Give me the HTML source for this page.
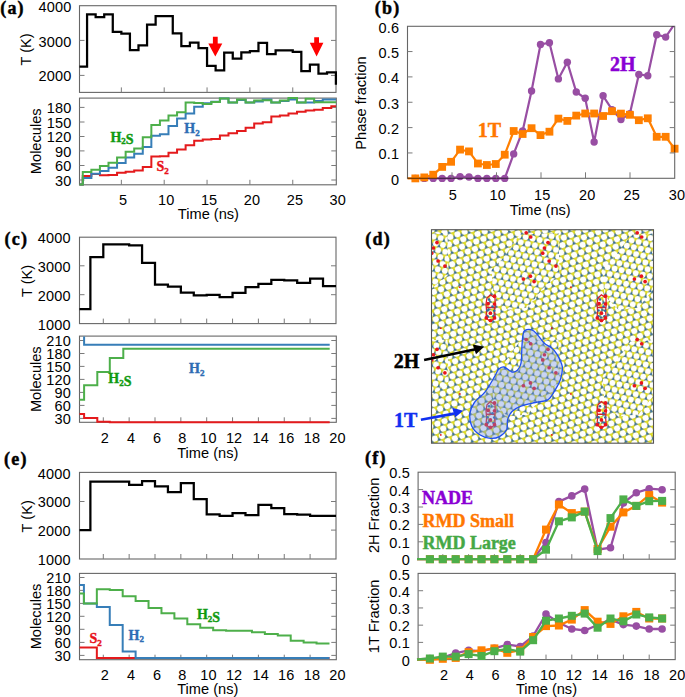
<!DOCTYPE html>
<html><head><meta charset="utf-8"><style>
html,body{margin:0;padding:0;background:#fff;overflow:hidden;}
svg{display:block;}
</style></head><body>
<svg width="685" height="697" viewBox="0 0 685 697">
<defs>
<clipPath id="clipb"><rect x="400" y="20" width="282" height="168"/></clipPath>
<clipPath id="clipb2"><rect x="400" y="26.3" width="274.4" height="162"/></clipPath>
<clipPath id="clipf1"><rect x="405" y="465" width="280" height="102"/></clipPath>
<pattern id="mos2b" patternUnits="userSpaceOnUse" width="7.2" height="12.471" patternTransform="translate(431.5,229.7) rotate(12)"><rect width="7.2" height="12.471" fill="#fff"/><path d="M3.60,2.08L0.00,4.16M3.60,2.08L7.20,4.16M3.60,2.08L3.60,-2.08M0.00,8.31L0.00,4.16M0.00,8.31L3.60,10.39M0.00,8.31L-3.60,10.39M7.20,8.31L7.20,4.16M7.20,8.31L3.60,10.39M7.20,8.31L10.80,10.39M3.60,14.55L3.60,10.39" stroke="#9aa84a" stroke-width="1.5"/><path d="M0.00,6.56 L-2.08,2.96 L2.08,2.96ZM7.20,6.56 L5.12,2.96 L9.28,2.96ZM3.60,12.79 L1.52,9.19 L5.68,9.19ZM3.60,0.32 L1.52,-3.28 L5.68,-3.28Z" fill="#e3de1e"/><path d="M3.60,0.18 L5.25,3.03 L1.95,3.03ZM0.00,6.41 L1.65,9.26 L-1.65,9.26ZM7.20,6.41 L8.85,9.26 L5.55,9.26ZM3.60,12.65 L5.25,15.50 L1.95,15.50Z" fill="#2f6aa6"/><circle cx="0" cy="0.000" r="2.75" fill="#fff"/><circle cx="7.2" cy="0.000" r="2.75" fill="#fff"/><circle cx="0" cy="12.471" r="2.75" fill="#fff"/><circle cx="7.2" cy="12.471" r="2.75" fill="#fff"/><circle cx="3.6" cy="6.235" r="2.75" fill="#fff"/></pattern>
<pattern id="mos2" patternUnits="userSpaceOnUse" width="7.6" height="13.164" patternTransform="translate(431.5,229.7) rotate(-20)"><rect width="7.6" height="13.164" fill="#fff"/><path d="M3.80,2.19L0.00,4.39M3.80,2.19L7.60,4.39M3.80,2.19L3.80,-2.19M0.00,8.78L0.00,4.39M0.00,8.78L3.80,10.97M0.00,8.78L-3.80,10.97M7.60,8.78L7.60,4.39M7.60,8.78L3.80,10.97M7.60,8.78L11.40,10.97M3.80,15.36L3.80,10.97" stroke="#9aa84a" stroke-width="1.6"/><path d="M0.00,6.99 L-2.25,3.09 L2.25,3.09ZM7.60,6.99 L5.35,3.09 L9.85,3.09ZM3.80,13.57 L1.55,9.67 L6.05,9.67ZM3.80,0.41 L1.55,-3.49 L6.05,-3.49Z" fill="#e3de1e"/><path d="M3.80,0.19 L5.53,3.19 L2.07,3.19ZM0.00,6.78 L1.73,9.78 L-1.73,9.78ZM7.60,6.78 L9.33,9.78 L5.87,9.78ZM3.80,13.36 L5.53,16.36 L2.07,16.36Z" fill="#2f6aa6"/><circle cx="0" cy="0.000" r="2.9" fill="#fff"/><circle cx="7.6" cy="0.000" r="2.9" fill="#fff"/><circle cx="0" cy="13.164" r="2.9" fill="#fff"/><circle cx="7.6" cy="13.164" r="2.9" fill="#fff"/><circle cx="3.8" cy="6.582" r="2.9" fill="#fff"/></pattern>
<clipPath id="clipd"><rect x="431.5" y="229.7" width="222.00" height="213.50"/></clipPath>
</defs>
<rect width="685" height="697" fill="#fff"/>
<rect x="79.5" y="5.7" width="256.50" height="86.70" fill="none" stroke="#000" stroke-opacity="0.6" stroke-width="1.1"/>
<path d="M79.5,40.40h5M336.0,40.40h-5M79.5,75.40h5M336.0,75.40h-5" stroke="#7a7a7a" stroke-width="1" fill="none"/>
<path d="M121.35,92.4v-5M164.20,92.4v-5M207.05,92.4v-5M249.90,92.4v-5M292.75,92.4v-5" stroke="#7a7a7a" stroke-width="1" fill="none"/>
<text x="71.40" y="12.20" font-family='"Liberation Sans", sans-serif' font-size="14.5" font-weight="normal" text-anchor="end" fill="#000" letter-spacing="0.15">4000</text>
<text x="71.40" y="46.90" font-family='"Liberation Sans", sans-serif' font-size="14.5" font-weight="normal" text-anchor="end" fill="#000" letter-spacing="0.15">3000</text>
<text x="71.40" y="80.80" font-family='"Liberation Sans", sans-serif' font-size="14.5" font-weight="normal" text-anchor="end" fill="#000" letter-spacing="0.15">2000</text>
<text transform="translate(26.00,49.50) rotate(-90)" x="0" y="5.26" font-family='"Liberation Sans", sans-serif' font-size="14.6" text-anchor="middle" fill="#000">T (K)</text>
<text x="0.20" y="14.10" font-family='"Liberation Serif", serif' font-size="18" font-weight="bold" text-anchor="start" fill="#000" letter-spacing="1.2" stroke="#000" stroke-width="0.45">(a)</text>
<path d="M79.50,66.60 L87.07,66.60 L87.07,14.30 L95.64,14.30 L95.64,17.10 L104.21,17.10 L104.21,14.30 L112.78,14.30 L112.78,31.80 L121.35,31.80 L121.35,33.70 L129.92,33.70 L129.92,50.10 L138.49,50.10 L138.49,45.40 L147.06,45.40 L147.06,24.60 L155.63,24.60 L155.63,16.00 L164.20,16.00 L164.20,16.00 L172.77,16.00 L172.77,33.40 L181.34,33.40 L181.34,46.00 L189.91,46.00 L189.91,42.70 L198.48,42.70 L198.48,48.00 L207.05,48.00 L207.05,65.90 L215.62,65.90 L215.62,70.30 L224.19,70.30 L224.19,52.50 L232.76,52.50 L232.76,58.70 L241.33,58.70 L241.33,52.30 L249.90,52.30 L249.90,51.10 L258.47,51.10 L258.47,42.80 L267.04,42.80 L267.04,54.00 L275.61,54.00 L275.61,50.40 L284.18,50.40 L284.18,50.40 L292.75,50.40 L292.75,51.80 L301.32,51.80 L301.32,71.10 L309.89,71.10 L309.89,64.70 L318.46,64.70 L318.46,73.70 L327.03,73.70 L327.03,72.30 L335.90,72.30 L335.90,84.70" stroke="#000" stroke-width="2.25" fill="none" stroke-linejoin="miter"/>
<path d="M212.9,36.8 h4.8 V43.6 h4.6 L215.3,56.4 L208.3,43.6 h4.6 Z" fill="#ff0000"/>
<path d="M314.20000000000005,37.2 h4.8 V42.8 h4.4 L316.6,56.4 L309.8,42.8 h4.4 Z" fill="#ff0000"/>
<rect x="79.5" y="98.1" width="256.80" height="86.70" fill="none" stroke="#000" stroke-opacity="0.6" stroke-width="1.1"/>
<path d="M79.5,107.40h5M336.3,107.40h-5M79.5,122.00h5M336.3,122.00h-5M79.5,136.50h5M336.3,136.50h-5M79.5,150.90h5M336.3,150.90h-5M79.5,165.50h5M336.3,165.50h-5M79.5,180.00h5M336.3,180.00h-5" stroke="#7a7a7a" stroke-width="1" fill="none"/>
<path d="M121.35,184.8v-5M164.20,184.8v-5M207.05,184.8v-5M249.90,184.8v-5M292.75,184.8v-5" stroke="#7a7a7a" stroke-width="1" fill="none"/>
<text x="71.40" y="113.00" font-family='"Liberation Sans", sans-serif' font-size="14.5" font-weight="normal" text-anchor="end" fill="#000" letter-spacing="0.15">180</text>
<text x="71.40" y="127.60" font-family='"Liberation Sans", sans-serif' font-size="14.5" font-weight="normal" text-anchor="end" fill="#000" letter-spacing="0.15">150</text>
<text x="71.40" y="142.10" font-family='"Liberation Sans", sans-serif' font-size="14.5" font-weight="normal" text-anchor="end" fill="#000" letter-spacing="0.15">120</text>
<text x="71.40" y="156.50" font-family='"Liberation Sans", sans-serif' font-size="14.5" font-weight="normal" text-anchor="end" fill="#000" letter-spacing="0.15">90</text>
<text x="71.40" y="171.10" font-family='"Liberation Sans", sans-serif' font-size="14.5" font-weight="normal" text-anchor="end" fill="#000" letter-spacing="0.15">60</text>
<text x="71.40" y="185.60" font-family='"Liberation Sans", sans-serif' font-size="14.5" font-weight="normal" text-anchor="end" fill="#000" letter-spacing="0.15">30</text>
<text transform="translate(35.30,141.30) rotate(-90)" x="0" y="5.26" font-family='"Liberation Sans", sans-serif' font-size="14.6" text-anchor="middle" fill="#000">Molecules</text>
<text x="123.20" y="204.90" font-family='"Liberation Sans", sans-serif' font-size="14.5" font-weight="normal" text-anchor="middle" fill="#000" letter-spacing="0.15">5</text>
<text x="166.20" y="204.90" font-family='"Liberation Sans", sans-serif' font-size="14.5" font-weight="normal" text-anchor="middle" fill="#000" letter-spacing="0.15">10</text>
<text x="209.10" y="204.90" font-family='"Liberation Sans", sans-serif' font-size="14.5" font-weight="normal" text-anchor="middle" fill="#000" letter-spacing="0.15">15</text>
<text x="252.00" y="204.90" font-family='"Liberation Sans", sans-serif' font-size="14.5" font-weight="normal" text-anchor="middle" fill="#000" letter-spacing="0.15">20</text>
<text x="294.90" y="204.90" font-family='"Liberation Sans", sans-serif' font-size="14.5" font-weight="normal" text-anchor="middle" fill="#000" letter-spacing="0.15">25</text>
<text x="337.80" y="204.90" font-family='"Liberation Sans", sans-serif' font-size="14.5" font-weight="normal" text-anchor="middle" fill="#000" letter-spacing="0.15">30</text>
<text x="208.40" y="219.40" font-family='"Liberation Sans", sans-serif' font-size="14.6" font-weight="normal" text-anchor="middle" fill="#000" >Time (ns)</text>
<path d="M79.50,184.40 L82.78,184.40 L82.78,176.10 L91.36,176.10 L91.36,174.00 L99.92,174.00 L99.92,175.30 L108.50,175.30 L108.50,174.90 L117.06,174.90 L117.06,172.70 L125.64,172.70 L125.64,171.70 L134.20,171.70 L134.20,170.50 L142.78,170.50 L142.78,167.00 L151.34,167.00 L151.34,156.40 L159.92,156.40 L159.92,156.20 L168.49,156.20 L168.49,152.70 L177.06,152.70 L177.06,149.50 L185.62,149.50 L185.62,145.20 L194.19,145.20 L194.19,140.80 L202.76,140.80 L202.76,139.50 L211.34,139.50 L211.34,139.00 L219.91,139.00 L219.91,135.40 L228.47,135.40 L228.47,133.20 L237.05,133.20 L237.05,130.90 L245.62,130.90 L245.62,127.70 L254.19,127.70 L254.19,123.40 L262.75,123.40 L262.75,122.30 L271.33,122.30 L271.33,116.50 L279.89,116.50 L279.89,115.40 L288.47,115.40 L288.47,113.50 L297.03,113.50 L297.03,111.80 L305.61,111.80 L305.61,110.40 L314.18,110.40 L314.18,109.70 L322.75,109.70 L322.75,108.00 L331.31,108.00 L331.31,106.30 L336.00,106.30" stroke="#e41a1c" stroke-width="2" fill="none"/>
<path d="M79.50,184.40 L82.78,184.40 L82.78,178.00 L91.36,178.00 L91.36,173.70 L99.92,173.70 L99.92,171.00 L108.50,171.00 L108.50,167.70 L117.06,167.70 L117.06,163.10 L125.64,163.10 L125.64,157.60 L134.20,157.60 L134.20,153.80 L142.78,153.80 L142.78,147.10 L151.34,147.10 L151.34,135.70 L159.92,135.70 L159.92,134.30 L168.49,134.30 L168.49,126.00 L177.06,126.00 L177.06,118.50 L185.62,118.50 L185.62,113.50 L194.19,113.50 L194.19,106.80 L202.76,106.80 L202.76,103.20 L211.34,103.20 L211.34,101.80 L219.91,101.80 L219.91,98.40 L228.47,98.40 L228.47,102.60 L237.05,102.60 L237.05,99.90 L245.62,99.90 L245.62,102.60 L254.19,102.60 L254.19,101.50 L262.75,101.50 L262.75,99.50 L271.33,99.50 L271.33,102.60 L279.89,102.60 L279.89,101.00 L288.47,101.00 L288.47,99.50 L297.03,99.50 L297.03,102.60 L305.61,102.60 L305.61,102.60 L314.18,102.60 L314.18,101.00 L322.75,101.00 L322.75,99.50 L331.31,99.50 L331.31,99.50 L336.00,99.50" stroke="#377eb8" stroke-width="2" fill="none"/>
<path d="M79.50,184.40 L82.78,184.40 L82.78,171.90 L91.36,171.90 L91.36,169.80 L99.92,169.80 L99.92,165.90 L108.50,165.90 L108.50,162.70 L117.06,162.70 L117.06,157.50 L125.64,157.50 L125.64,151.80 L134.20,151.80 L134.20,148.40 L142.78,148.40 L142.78,137.30 L151.34,137.30 L151.34,124.90 L159.92,124.90 L159.92,120.60 L168.49,120.60 L168.49,115.50 L177.06,115.50 L177.06,112.20 L185.62,112.20 L185.62,102.50 L194.19,102.50 L194.19,103.00 L202.76,103.00 L202.76,104.00 L211.34,104.00 L211.34,102.00 L219.91,102.00 L219.91,98.50 L228.47,98.50 L228.47,102.60 L237.05,102.60 L237.05,99.50 L245.62,99.50 L245.62,102.60 L254.19,102.60 L254.19,100.50 L262.75,100.50 L262.75,100.20 L271.33,100.20 L271.33,102.60 L279.89,102.60 L279.89,100.40 L288.47,100.40 L288.47,98.10 L297.03,98.10 L297.03,102.60 L305.61,102.60 L305.61,98.80 L314.18,98.80 L314.18,102.20 L322.75,102.20 L322.75,102.20 L331.31,102.20 L331.31,102.20 L336.00,102.20" stroke="#4daf4a" stroke-width="2" fill="none"/>
<text x="110.40" y="141.50" font-family='"Liberation Serif", serif' font-size="14" font-weight="bold" fill="#109a10" stroke="#109a10" stroke-width="0.4"><tspan>H</tspan><tspan font-size="9.0" dy="2.8">2</tspan><tspan dy="-2.8"></tspan><tspan>S</tspan></text>
<text x="184.30" y="133.40" font-family='"Liberation Serif", serif' font-size="14" font-weight="bold" fill="#2e6db4" stroke="#2e6db4" stroke-width="0.4"><tspan>H</tspan><tspan font-size="9.0" dy="2.8">2</tspan><tspan dy="-2.8"></tspan></text>
<text x="156.50" y="171.40" font-family='"Liberation Serif", serif' font-size="14" font-weight="bold" fill="#e8101a" stroke="#e8101a" stroke-width="0.4"><tspan>S</tspan><tspan font-size="9.0" dy="2.8">2</tspan><tspan dy="-2.8"></tspan></text>
<text x="399.20" y="32.70" font-family='"Liberation Sans", sans-serif' font-size="14.5" font-weight="normal" text-anchor="end" fill="#000" letter-spacing="0.15">0.6</text>
<text x="399.20" y="58.05" font-family='"Liberation Sans", sans-serif' font-size="14.5" font-weight="normal" text-anchor="end" fill="#000" letter-spacing="0.15">0.5</text>
<text x="399.20" y="83.40" font-family='"Liberation Sans", sans-serif' font-size="14.5" font-weight="normal" text-anchor="end" fill="#000" letter-spacing="0.15">0.4</text>
<text x="399.20" y="108.75" font-family='"Liberation Sans", sans-serif' font-size="14.5" font-weight="normal" text-anchor="end" fill="#000" letter-spacing="0.15">0.3</text>
<text x="399.20" y="134.10" font-family='"Liberation Sans", sans-serif' font-size="14.5" font-weight="normal" text-anchor="end" fill="#000" letter-spacing="0.15">0.2</text>
<text x="399.20" y="159.45" font-family='"Liberation Sans", sans-serif' font-size="14.5" font-weight="normal" text-anchor="end" fill="#000" letter-spacing="0.15">0.1</text>
<text x="399.20" y="184.80" font-family='"Liberation Sans", sans-serif' font-size="14.5" font-weight="normal" text-anchor="end" fill="#000" letter-spacing="0.15">0</text>
<text transform="translate(361.00,103.00) rotate(-90)" x="0" y="5.26" font-family='"Liberation Sans", sans-serif' font-size="14.6" text-anchor="middle" fill="#000">Phase fraction</text>
<text x="452.80" y="200.20" font-family='"Liberation Sans", sans-serif' font-size="14.5" font-weight="normal" text-anchor="middle" fill="#000" letter-spacing="0.15">5</text>
<text x="497.80" y="200.20" font-family='"Liberation Sans", sans-serif' font-size="14.5" font-weight="normal" text-anchor="middle" fill="#000" letter-spacing="0.15">10</text>
<text x="542.30" y="200.20" font-family='"Liberation Sans", sans-serif' font-size="14.5" font-weight="normal" text-anchor="middle" fill="#000" letter-spacing="0.15">15</text>
<text x="587.20" y="200.20" font-family='"Liberation Sans", sans-serif' font-size="14.5" font-weight="normal" text-anchor="middle" fill="#000" letter-spacing="0.15">20</text>
<text x="631.80" y="200.20" font-family='"Liberation Sans", sans-serif' font-size="14.5" font-weight="normal" text-anchor="middle" fill="#000" letter-spacing="0.15">25</text>
<text x="677.00" y="200.20" font-family='"Liberation Sans", sans-serif' font-size="14.5" font-weight="normal" text-anchor="middle" fill="#000" letter-spacing="0.15">30</text>
<text x="540.20" y="214.70" font-family='"Liberation Sans", sans-serif' font-size="14.6" font-weight="normal" text-anchor="middle" fill="#000" >Time (ns)</text>
<text x="374.80" y="13.50" font-family='"Liberation Serif", serif' font-size="18" font-weight="bold" text-anchor="start" fill="#000" letter-spacing="1.2" stroke="#000" stroke-width="0.45">(b)</text>
<g clip-path="url(#clipb2)">
<path d="M415.34,178.40 L424.28,178.40 L433.22,178.40 L442.16,178.40 L451.10,178.40 L460.04,176.60 L468.98,177.00 L477.92,178.40 L486.86,178.40 L495.80,178.40 L504.74,178.40 L513.68,153.90 L522.62,131.00 L531.56,91.00 L540.50,44.50 L549.44,42.70 L558.38,78.90 L567.32,62.20 L576.26,92.00 L585.20,98.30 L594.14,142.00 L603.08,95.80 L612.02,109.60 L620.96,119.50 L629.90,113.60 L638.84,74.50 L647.78,75.70 L656.72,34.70 L665.66,37.10 L674.60,24.00" stroke="#984ea3" stroke-width="2.2" fill="none"/>
</g>
<g clip-path="url(#clipb)">
<circle cx="415.34" cy="178.40" r="3.7" fill="#984ea3"/>
<circle cx="424.28" cy="178.40" r="3.7" fill="#984ea3"/>
<circle cx="433.22" cy="178.40" r="3.7" fill="#984ea3"/>
<circle cx="442.16" cy="178.40" r="3.7" fill="#984ea3"/>
<circle cx="451.10" cy="178.40" r="3.7" fill="#984ea3"/>
<circle cx="460.04" cy="176.60" r="3.7" fill="#984ea3"/>
<circle cx="468.98" cy="177.00" r="3.7" fill="#984ea3"/>
<circle cx="477.92" cy="178.40" r="3.7" fill="#984ea3"/>
<circle cx="486.86" cy="178.40" r="3.7" fill="#984ea3"/>
<circle cx="495.80" cy="178.40" r="3.7" fill="#984ea3"/>
<circle cx="504.74" cy="178.40" r="3.7" fill="#984ea3"/>
<circle cx="513.68" cy="153.90" r="3.7" fill="#984ea3"/>
<circle cx="522.62" cy="131.00" r="3.7" fill="#984ea3"/>
<circle cx="531.56" cy="91.00" r="3.7" fill="#984ea3"/>
<circle cx="540.50" cy="44.50" r="3.7" fill="#984ea3"/>
<circle cx="549.44" cy="42.70" r="3.7" fill="#984ea3"/>
<circle cx="558.38" cy="78.90" r="3.7" fill="#984ea3"/>
<circle cx="567.32" cy="62.20" r="3.7" fill="#984ea3"/>
<circle cx="576.26" cy="92.00" r="3.7" fill="#984ea3"/>
<circle cx="585.20" cy="98.30" r="3.7" fill="#984ea3"/>
<circle cx="594.14" cy="142.00" r="3.7" fill="#984ea3"/>
<circle cx="603.08" cy="95.80" r="3.7" fill="#984ea3"/>
<circle cx="612.02" cy="109.60" r="3.7" fill="#984ea3"/>
<circle cx="620.96" cy="119.50" r="3.7" fill="#984ea3"/>
<circle cx="629.90" cy="113.60" r="3.7" fill="#984ea3"/>
<circle cx="638.84" cy="74.50" r="3.7" fill="#984ea3"/>
<circle cx="647.78" cy="75.70" r="3.7" fill="#984ea3"/>
<circle cx="656.72" cy="34.70" r="3.7" fill="#984ea3"/>
<circle cx="665.66" cy="37.10" r="3.7" fill="#984ea3"/>
<path d="M407.50,178.40 L415.34,178.40 L424.28,177.40 L433.22,174.70 L442.16,166.90 L451.10,161.80 L460.04,149.60 L468.98,151.40 L477.92,163.50 L486.86,165.00 L495.80,164.00 L504.74,154.70 L513.68,131.00 L522.62,134.00 L531.56,128.20 L540.50,135.10 L549.44,131.70 L558.38,118.60 L567.32,120.90 L576.26,115.60 L585.20,113.50 L594.14,113.50 L603.08,116.00 L612.02,111.20 L620.96,113.60 L629.90,114.80 L638.84,120.20 L647.78,118.30 L656.72,136.80 L665.66,136.80 L674.60,148.70" stroke="#ff7f00" stroke-width="2.2" fill="none"/>
<rect x="411.44" y="174.50" width="7.8" height="7.8" fill="#ff7f00"/>
<rect x="420.38" y="173.50" width="7.8" height="7.8" fill="#ff7f00"/>
<rect x="429.32" y="170.80" width="7.8" height="7.8" fill="#ff7f00"/>
<rect x="438.26" y="163.00" width="7.8" height="7.8" fill="#ff7f00"/>
<rect x="447.20" y="157.90" width="7.8" height="7.8" fill="#ff7f00"/>
<rect x="456.14" y="145.70" width="7.8" height="7.8" fill="#ff7f00"/>
<rect x="465.08" y="147.50" width="7.8" height="7.8" fill="#ff7f00"/>
<rect x="474.02" y="159.60" width="7.8" height="7.8" fill="#ff7f00"/>
<rect x="482.96" y="161.10" width="7.8" height="7.8" fill="#ff7f00"/>
<rect x="491.90" y="160.10" width="7.8" height="7.8" fill="#ff7f00"/>
<rect x="500.84" y="150.80" width="7.8" height="7.8" fill="#ff7f00"/>
<rect x="509.78" y="127.10" width="7.8" height="7.8" fill="#ff7f00"/>
<rect x="518.72" y="130.10" width="7.8" height="7.8" fill="#ff7f00"/>
<rect x="527.66" y="124.30" width="7.8" height="7.8" fill="#ff7f00"/>
<rect x="536.60" y="131.20" width="7.8" height="7.8" fill="#ff7f00"/>
<rect x="545.54" y="127.80" width="7.8" height="7.8" fill="#ff7f00"/>
<rect x="554.48" y="114.70" width="7.8" height="7.8" fill="#ff7f00"/>
<rect x="563.42" y="117.00" width="7.8" height="7.8" fill="#ff7f00"/>
<rect x="572.36" y="111.70" width="7.8" height="7.8" fill="#ff7f00"/>
<rect x="581.30" y="109.60" width="7.8" height="7.8" fill="#ff7f00"/>
<rect x="590.24" y="109.60" width="7.8" height="7.8" fill="#ff7f00"/>
<rect x="599.18" y="112.10" width="7.8" height="7.8" fill="#ff7f00"/>
<rect x="608.12" y="107.30" width="7.8" height="7.8" fill="#ff7f00"/>
<rect x="617.06" y="109.70" width="7.8" height="7.8" fill="#ff7f00"/>
<rect x="626.00" y="110.90" width="7.8" height="7.8" fill="#ff7f00"/>
<rect x="634.94" y="116.30" width="7.8" height="7.8" fill="#ff7f00"/>
<rect x="643.88" y="114.40" width="7.8" height="7.8" fill="#ff7f00"/>
<rect x="652.82" y="132.90" width="7.8" height="7.8" fill="#ff7f00"/>
<rect x="661.76" y="132.90" width="7.8" height="7.8" fill="#ff7f00"/>
<rect x="670.70" y="144.80" width="7.8" height="7.8" fill="#ff7f00"/>
</g>
<text x="477.80" y="136.50" font-family='"Liberation Serif", serif' font-size="20" font-weight="bold" text-anchor="start" fill="#ff7700"  stroke="#ff7700" stroke-width="0.45">1T</text>
<text x="610.00" y="70.70" font-family='"Liberation Serif", serif' font-size="20" font-weight="bold" text-anchor="start" fill="#8a00d4"  stroke="#8a00d4" stroke-width="0.45">2H</text>
<text x="4.50" y="245.30" font-family='"Liberation Serif", serif' font-size="18" font-weight="bold" text-anchor="start" fill="#000" letter-spacing="1.2" stroke="#000" stroke-width="0.45">(c)</text>
<rect x="79.5" y="237.2" width="256.50" height="86.40" fill="none" stroke="#000" stroke-opacity="0.6" stroke-width="1.1"/>
<path d="M79.5,265.80h5M336.0,265.80h-5M79.5,294.70h5M336.0,294.70h-5" stroke="#7a7a7a" stroke-width="1" fill="none"/>
<path d="M103.30,323.6v-5M129.15,323.6v-5M155.00,323.6v-5M180.85,323.6v-5M206.70,323.6v-5M232.55,323.6v-5M258.40,323.6v-5M284.25,323.6v-5M310.10,323.6v-5" stroke="#7a7a7a" stroke-width="1" fill="none"/>
<text x="70.60" y="243.40" font-family='"Liberation Sans", sans-serif' font-size="14.5" font-weight="normal" text-anchor="end" fill="#000" letter-spacing="0.15">4000</text>
<text x="70.60" y="272.10" font-family='"Liberation Sans", sans-serif' font-size="14.5" font-weight="normal" text-anchor="end" fill="#000" letter-spacing="0.15">3000</text>
<text x="70.60" y="301.00" font-family='"Liberation Sans", sans-serif' font-size="14.5" font-weight="normal" text-anchor="end" fill="#000" letter-spacing="0.15">2000</text>
<text x="70.60" y="329.50" font-family='"Liberation Sans", sans-serif' font-size="14.5" font-weight="normal" text-anchor="end" fill="#000" letter-spacing="0.15">1000</text>
<path d="M79.50,309.20 L90.38,309.20 L90.38,257.10 L103.30,257.10 L103.30,244.30 L116.23,244.30 L116.23,244.30 L129.15,244.30 L129.15,245.30 L142.07,245.30 L142.07,262.90 L155.00,262.90 L155.00,284.60 L167.93,284.60 L167.93,286.70 L180.85,286.70 L180.85,292.70 L193.78,292.70 L193.78,295.30 L206.70,295.30 L206.70,294.90 L219.62,294.90 L219.62,297.20 L232.55,297.20 L232.55,292.80 L245.48,292.80 L245.48,287.00 L258.40,287.00 L258.40,283.90 L271.32,283.90 L271.32,279.80 L284.25,279.80 L284.25,280.30 L297.18,280.30 L297.18,282.80 L310.10,282.80 L310.10,278.60 L323.03,278.60 L323.03,286.00 L336.00,286.00" stroke="#000" stroke-width="2.25" fill="none"/>
<text transform="translate(27.00,281.00) rotate(-90)" x="0" y="5.26" font-family='"Liberation Sans", sans-serif' font-size="14.6" text-anchor="middle" fill="#000">T (K)</text>
<rect x="79.5" y="336.1" width="256.80" height="86.20" fill="none" stroke="#000" stroke-opacity="0.6" stroke-width="1.1"/>
<path d="M79.5,340.50h5M336.3,340.50h-5M79.5,353.50h5M336.3,353.50h-5M79.5,366.40h5M336.3,366.40h-5M79.5,379.40h5M336.3,379.40h-5M79.5,392.40h5M336.3,392.40h-5M79.5,405.40h5M336.3,405.40h-5M79.5,418.40h5M336.3,418.40h-5" stroke="#7a7a7a" stroke-width="1" fill="none"/>
<path d="M103.30,422.3v-5M129.15,422.3v-5M155.00,422.3v-5M180.85,422.3v-5M206.70,422.3v-5M232.55,422.3v-5M258.40,422.3v-5M284.25,422.3v-5M310.10,422.3v-5" stroke="#7a7a7a" stroke-width="1" fill="none"/>
<text x="71.00" y="346.30" font-family='"Liberation Sans", sans-serif' font-size="14.5" font-weight="normal" text-anchor="end" fill="#000" letter-spacing="0.15">210</text>
<text x="71.00" y="359.30" font-family='"Liberation Sans", sans-serif' font-size="14.5" font-weight="normal" text-anchor="end" fill="#000" letter-spacing="0.15">180</text>
<text x="71.00" y="372.20" font-family='"Liberation Sans", sans-serif' font-size="14.5" font-weight="normal" text-anchor="end" fill="#000" letter-spacing="0.15">150</text>
<text x="71.00" y="385.20" font-family='"Liberation Sans", sans-serif' font-size="14.5" font-weight="normal" text-anchor="end" fill="#000" letter-spacing="0.15">120</text>
<text x="71.00" y="398.20" font-family='"Liberation Sans", sans-serif' font-size="14.5" font-weight="normal" text-anchor="end" fill="#000" letter-spacing="0.15">90</text>
<text x="71.00" y="411.20" font-family='"Liberation Sans", sans-serif' font-size="14.5" font-weight="normal" text-anchor="end" fill="#000" letter-spacing="0.15">60</text>
<text x="71.00" y="424.20" font-family='"Liberation Sans", sans-serif' font-size="14.5" font-weight="normal" text-anchor="end" fill="#000" letter-spacing="0.15">30</text>
<text x="104.80" y="442.90" font-family='"Liberation Sans", sans-serif' font-size="14.5" font-weight="normal" text-anchor="middle" fill="#000" letter-spacing="0.15">2</text>
<text x="131.00" y="442.90" font-family='"Liberation Sans", sans-serif' font-size="14.5" font-weight="normal" text-anchor="middle" fill="#000" letter-spacing="0.15">4</text>
<text x="157.00" y="442.90" font-family='"Liberation Sans", sans-serif' font-size="14.5" font-weight="normal" text-anchor="middle" fill="#000" letter-spacing="0.15">6</text>
<text x="182.40" y="442.90" font-family='"Liberation Sans", sans-serif' font-size="14.5" font-weight="normal" text-anchor="middle" fill="#000" letter-spacing="0.15">8</text>
<text x="208.40" y="442.90" font-family='"Liberation Sans", sans-serif' font-size="14.5" font-weight="normal" text-anchor="middle" fill="#000" letter-spacing="0.15">10</text>
<text x="234.10" y="442.90" font-family='"Liberation Sans", sans-serif' font-size="14.5" font-weight="normal" text-anchor="middle" fill="#000" letter-spacing="0.15">12</text>
<text x="260.80" y="442.90" font-family='"Liberation Sans", sans-serif' font-size="14.5" font-weight="normal" text-anchor="middle" fill="#000" letter-spacing="0.15">14</text>
<text x="286.30" y="442.90" font-family='"Liberation Sans", sans-serif' font-size="14.5" font-weight="normal" text-anchor="middle" fill="#000" letter-spacing="0.15">16</text>
<text x="311.90" y="442.90" font-family='"Liberation Sans", sans-serif' font-size="14.5" font-weight="normal" text-anchor="middle" fill="#000" letter-spacing="0.15">18</text>
<text x="337.40" y="442.90" font-family='"Liberation Sans", sans-serif' font-size="14.5" font-weight="normal" text-anchor="middle" fill="#000" letter-spacing="0.15">20</text>
<text x="207.80" y="457.70" font-family='"Liberation Sans", sans-serif' font-size="14.6" font-weight="normal" text-anchor="middle" fill="#000" >Time (ns)</text>
<text transform="translate(35.30,379.20) rotate(-90)" x="0" y="5.26" font-family='"Liberation Sans", sans-serif' font-size="14.6" text-anchor="middle" fill="#000">Molecules</text>
<path d="M79.50,413.90 L84.10,413.90 L84.10,418.00 L97.30,418.00 L97.30,421.70 L109.80,421.70 L109.80,422.20 L329.70,422.20" stroke="#e41a1c" stroke-width="2" fill="none"/>
<path d="M79.50,399.80 L84.10,399.80 L84.10,385.20 L97.30,385.20 L97.30,372.00 L109.80,372.00 L109.80,358.00 L123.30,358.00 L123.30,348.70 L329.70,348.70" stroke="#4daf4a" stroke-width="2" fill="none"/>
<path d="M84.10,336.60 L84.10,344.70 L329.70,344.70" stroke="#377eb8" stroke-width="2" fill="none"/>
<text x="108.30" y="382.70" font-family='"Liberation Serif", serif' font-size="14" font-weight="bold" fill="#109a10" stroke="#109a10" stroke-width="0.4"><tspan>H</tspan><tspan font-size="9.0" dy="2.8">2</tspan><tspan dy="-2.8"></tspan><tspan>S</tspan></text>
<text x="189.00" y="373.00" font-family='"Liberation Serif", serif' font-size="14" font-weight="bold" fill="#2e6db4" stroke="#2e6db4" stroke-width="0.4"><tspan>H</tspan><tspan font-size="9.0" dy="2.8">2</tspan><tspan dy="-2.8"></tspan></text>
<text x="4.10" y="465.20" font-family='"Liberation Serif", serif' font-size="18" font-weight="bold" text-anchor="start" fill="#000" letter-spacing="1.2" stroke="#000" stroke-width="0.45">(e)</text>
<rect x="79.5" y="472.4" width="256.50" height="86.60" fill="none" stroke="#000" stroke-opacity="0.6" stroke-width="1.1"/>
<path d="M79.5,501.50h5M336.0,501.50h-5M79.5,530.10h5M336.0,530.10h-5" stroke="#7a7a7a" stroke-width="1" fill="none"/>
<path d="M103.30,559.0v-5M129.15,559.0v-5M155.00,559.0v-5M180.85,559.0v-5M206.70,559.0v-5M232.55,559.0v-5M258.40,559.0v-5M284.25,559.0v-5M310.10,559.0v-5" stroke="#7a7a7a" stroke-width="1" fill="none"/>
<text x="70.60" y="478.90" font-family='"Liberation Sans", sans-serif' font-size="14.5" font-weight="normal" text-anchor="end" fill="#000" letter-spacing="0.15">4000</text>
<text x="70.60" y="507.30" font-family='"Liberation Sans", sans-serif' font-size="14.5" font-weight="normal" text-anchor="end" fill="#000" letter-spacing="0.15">3000</text>
<text x="70.60" y="536.20" font-family='"Liberation Sans", sans-serif' font-size="14.5" font-weight="normal" text-anchor="end" fill="#000" letter-spacing="0.15">2000</text>
<text x="70.60" y="565.00" font-family='"Liberation Sans", sans-serif' font-size="14.5" font-weight="normal" text-anchor="end" fill="#000" letter-spacing="0.15">1000</text>
<path d="M79.50,530.10 L90.38,530.10 L90.38,481.50 L103.30,481.50 L103.30,481.50 L116.23,481.50 L116.23,481.50 L129.15,481.50 L129.15,484.90 L142.07,484.90 L142.07,481.10 L155.00,481.10 L155.00,486.40 L167.93,486.40 L167.93,492.00 L180.85,492.00 L180.85,483.00 L193.78,483.00 L193.78,499.20 L206.70,499.20 L206.70,514.30 L219.62,514.30 L219.62,515.80 L232.55,515.80 L232.55,513.00 L245.48,513.00 L245.48,515.20 L258.40,515.20 L258.40,504.80 L271.32,504.80 L271.32,508.00 L284.25,508.00 L284.25,514.10 L297.18,514.10 L297.18,514.70 L310.10,514.70 L310.10,515.80 L323.03,515.80 L323.03,515.80 L336.00,515.80" stroke="#000" stroke-width="2.25" fill="none"/>
<text transform="translate(26.50,516.30) rotate(-90)" x="0" y="5.26" font-family='"Liberation Sans", sans-serif' font-size="14.6" text-anchor="middle" fill="#000">T (K)</text>
<rect x="79.5" y="573.4" width="256.80" height="86.30" fill="none" stroke="#000" stroke-opacity="0.6" stroke-width="1.1"/>
<path d="M79.5,577.50h5M336.3,577.50h-5M79.5,590.40h5M336.3,590.40h-5M79.5,603.40h5M336.3,603.40h-5M79.5,616.30h5M336.3,616.30h-5M79.5,629.30h5M336.3,629.30h-5M79.5,642.40h5M336.3,642.40h-5M79.5,655.40h5M336.3,655.40h-5" stroke="#7a7a7a" stroke-width="1" fill="none"/>
<path d="M103.30,659.7v-5M129.15,659.7v-5M155.00,659.7v-5M180.85,659.7v-5M206.70,659.7v-5M232.55,659.7v-5M258.40,659.7v-5M284.25,659.7v-5M310.10,659.7v-5" stroke="#7a7a7a" stroke-width="1" fill="none"/>
<text x="71.00" y="583.30" font-family='"Liberation Sans", sans-serif' font-size="14.5" font-weight="normal" text-anchor="end" fill="#000" letter-spacing="0.15">210</text>
<text x="71.00" y="596.20" font-family='"Liberation Sans", sans-serif' font-size="14.5" font-weight="normal" text-anchor="end" fill="#000" letter-spacing="0.15">180</text>
<text x="71.00" y="609.20" font-family='"Liberation Sans", sans-serif' font-size="14.5" font-weight="normal" text-anchor="end" fill="#000" letter-spacing="0.15">150</text>
<text x="71.00" y="622.10" font-family='"Liberation Sans", sans-serif' font-size="14.5" font-weight="normal" text-anchor="end" fill="#000" letter-spacing="0.15">120</text>
<text x="71.00" y="635.10" font-family='"Liberation Sans", sans-serif' font-size="14.5" font-weight="normal" text-anchor="end" fill="#000" letter-spacing="0.15">90</text>
<text x="71.00" y="648.20" font-family='"Liberation Sans", sans-serif' font-size="14.5" font-weight="normal" text-anchor="end" fill="#000" letter-spacing="0.15">60</text>
<text x="71.00" y="661.20" font-family='"Liberation Sans", sans-serif' font-size="14.5" font-weight="normal" text-anchor="end" fill="#000" letter-spacing="0.15">30</text>
<text x="104.80" y="679.70" font-family='"Liberation Sans", sans-serif' font-size="14.5" font-weight="normal" text-anchor="middle" fill="#000" letter-spacing="0.15">2</text>
<text x="131.00" y="679.70" font-family='"Liberation Sans", sans-serif' font-size="14.5" font-weight="normal" text-anchor="middle" fill="#000" letter-spacing="0.15">4</text>
<text x="157.00" y="679.70" font-family='"Liberation Sans", sans-serif' font-size="14.5" font-weight="normal" text-anchor="middle" fill="#000" letter-spacing="0.15">6</text>
<text x="182.40" y="679.70" font-family='"Liberation Sans", sans-serif' font-size="14.5" font-weight="normal" text-anchor="middle" fill="#000" letter-spacing="0.15">8</text>
<text x="208.40" y="679.70" font-family='"Liberation Sans", sans-serif' font-size="14.5" font-weight="normal" text-anchor="middle" fill="#000" letter-spacing="0.15">10</text>
<text x="234.10" y="679.70" font-family='"Liberation Sans", sans-serif' font-size="14.5" font-weight="normal" text-anchor="middle" fill="#000" letter-spacing="0.15">12</text>
<text x="260.80" y="679.70" font-family='"Liberation Sans", sans-serif' font-size="14.5" font-weight="normal" text-anchor="middle" fill="#000" letter-spacing="0.15">14</text>
<text x="286.30" y="679.70" font-family='"Liberation Sans", sans-serif' font-size="14.5" font-weight="normal" text-anchor="middle" fill="#000" letter-spacing="0.15">16</text>
<text x="311.90" y="679.70" font-family='"Liberation Sans", sans-serif' font-size="14.5" font-weight="normal" text-anchor="middle" fill="#000" letter-spacing="0.15">18</text>
<text x="337.40" y="679.70" font-family='"Liberation Sans", sans-serif' font-size="14.5" font-weight="normal" text-anchor="middle" fill="#000" letter-spacing="0.15">20</text>
<text x="207.80" y="694.20" font-family='"Liberation Sans", sans-serif' font-size="14.6" font-weight="normal" text-anchor="middle" fill="#000" >Time (ns)</text>
<text transform="translate(35.30,616.50) rotate(-90)" x="0" y="5.26" font-family='"Liberation Sans", sans-serif' font-size="14.6" text-anchor="middle" fill="#000">Molecules</text>
<path d="M79.50,647.60 L83.91,647.60 L83.91,647.60 L96.84,647.60 L96.84,657.90 L109.76,657.90 L109.76,657.90 L122.69,657.90 L122.69,657.90 L135.61,657.90 L135.61,657.90 L148.54,657.90 L148.54,657.90 L161.46,657.90 L161.46,657.90 L174.39,657.90 L174.39,657.90 L187.31,657.90 L187.31,657.90 L200.24,657.90 L200.24,657.90 L213.16,657.90 L213.16,657.90 L226.09,657.90 L226.09,657.90 L239.01,657.90 L239.01,657.90 L251.94,657.90 L251.94,657.90 L264.86,657.90 L264.86,657.90 L277.79,657.90 L277.79,657.90 L290.71,657.90 L290.71,657.90 L303.64,657.90 L303.64,657.90 L316.56,657.90 L316.56,657.90 L329.49,657.90" stroke="#e41a1c" stroke-width="2" fill="none"/>
<path d="M79.50,585.10 L83.91,585.10 L83.91,603.40 L96.84,603.40 L96.84,607.00 L109.76,607.00 L109.76,625.00 L122.69,625.00 L122.69,651.40 L135.61,651.40 L135.61,657.90 L148.54,657.90 L148.54,657.90 L161.46,657.90 L161.46,657.90 L174.39,657.90 L174.39,657.90 L187.31,657.90 L187.31,657.90 L200.24,657.90 L200.24,657.90 L213.16,657.90 L213.16,657.90 L226.09,657.90 L226.09,657.90 L239.01,657.90 L239.01,657.90 L251.94,657.90 L251.94,657.90 L264.86,657.90 L264.86,657.90 L277.79,657.90 L277.79,657.90 L290.71,657.90 L290.71,657.90 L303.64,657.90 L303.64,657.90 L316.56,657.90 L316.56,657.90 L329.49,657.90" stroke="#377eb8" stroke-width="2" fill="none"/>
<path d="M79.50,593.60 L83.91,593.60 L83.91,603.40 L96.84,603.40 L96.84,589.20 L109.76,589.20 L109.76,589.90 L122.69,589.90 L122.69,596.20 L135.61,596.20 L135.61,600.90 L148.54,600.90 L148.54,607.90 L161.46,607.90 L161.46,613.20 L174.39,613.20 L174.39,618.40 L187.31,618.40 L187.31,624.20 L200.24,624.20 L200.24,627.70 L213.16,627.70 L213.16,630.20 L226.09,630.20 L226.09,630.80 L239.01,630.80 L239.01,630.80 L251.94,630.80 L251.94,632.20 L264.86,632.20 L264.86,634.10 L277.79,634.10 L277.79,635.60 L290.71,635.60 L290.71,640.70 L303.64,640.70 L303.64,642.60 L316.56,642.60 L316.56,643.60 L329.49,643.60" stroke="#4daf4a" stroke-width="2" fill="none"/>
<text x="89.40" y="643.00" font-family='"Liberation Serif", serif' font-size="14" font-weight="bold" fill="#e8101a" stroke="#e8101a" stroke-width="0.4"><tspan>S</tspan><tspan font-size="9.0" dy="2.8">2</tspan><tspan dy="-2.8"></tspan></text>
<text x="128.60" y="639.60" font-family='"Liberation Serif", serif' font-size="14" font-weight="bold" fill="#2e6db4" stroke="#2e6db4" stroke-width="0.4"><tspan>H</tspan><tspan font-size="9.0" dy="2.8">2</tspan><tspan dy="-2.8"></tspan></text>
<text x="196.90" y="619.40" font-family='"Liberation Serif", serif' font-size="14" font-weight="bold" fill="#109a10" stroke="#109a10" stroke-width="0.4"><tspan>H</tspan><tspan font-size="9.0" dy="2.8">2</tspan><tspan dy="-2.8"></tspan><tspan>S</tspan></text>
<text x="365.00" y="464.40" font-family='"Liberation Serif", serif' font-size="18" font-weight="bold" text-anchor="start" fill="#000" letter-spacing="1.2" stroke="#000" stroke-width="0.45">(f)</text>
<rect x="418.1" y="472.2" width="257.10" height="87.00" fill="none" stroke="#000" stroke-opacity="0.6" stroke-width="1.1"/>
<path d="M418.1,541.80h5M675.2,541.80h-5M418.1,524.40h5M675.2,524.40h-5M418.1,507.00h5M675.2,507.00h-5M418.1,489.60h5M675.2,489.60h-5" stroke="#7a7a7a" stroke-width="1" fill="none"/>
<path d="M442.80,559.2v-5M468.60,559.2v-5M494.40,559.2v-5M520.20,559.2v-5M546.00,559.2v-5M571.80,559.2v-5M597.60,559.2v-5M623.40,559.2v-5M649.20,559.2v-5" stroke="#7a7a7a" stroke-width="1" fill="none"/>
<text x="409.90" y="478.20" font-family='"Liberation Sans", sans-serif' font-size="14.5" font-weight="normal" text-anchor="end" fill="#000" letter-spacing="0.15">0.5</text>
<text x="409.90" y="495.60" font-family='"Liberation Sans", sans-serif' font-size="14.5" font-weight="normal" text-anchor="end" fill="#000" letter-spacing="0.15">0.4</text>
<text x="409.90" y="513.00" font-family='"Liberation Sans", sans-serif' font-size="14.5" font-weight="normal" text-anchor="end" fill="#000" letter-spacing="0.15">0.3</text>
<text x="409.90" y="530.40" font-family='"Liberation Sans", sans-serif' font-size="14.5" font-weight="normal" text-anchor="end" fill="#000" letter-spacing="0.15">0.2</text>
<text x="409.90" y="547.80" font-family='"Liberation Sans", sans-serif' font-size="14.5" font-weight="normal" text-anchor="end" fill="#000" letter-spacing="0.15">0.1</text>
<text x="409.90" y="565.20" font-family='"Liberation Sans", sans-serif' font-size="14.5" font-weight="normal" text-anchor="end" fill="#000" letter-spacing="0.15">0</text>
<text transform="translate(374.00,515.40) rotate(-90)" x="0" y="5.26" font-family='"Liberation Sans", sans-serif' font-size="14.6" text-anchor="middle" fill="#000">2H Fraction</text>
<rect x="418.1" y="573.4" width="257.10" height="86.20" fill="none" stroke="#000" stroke-opacity="0.6" stroke-width="1.1"/>
<path d="M418.1,642.38h5M675.2,642.38h-5M418.1,625.16h5M675.2,625.16h-5M418.1,607.94h5M675.2,607.94h-5M418.1,590.72h5M675.2,590.72h-5" stroke="#7a7a7a" stroke-width="1" fill="none"/>
<path d="M442.80,659.6v-5M468.60,659.6v-5M494.40,659.6v-5M520.20,659.6v-5M546.00,659.6v-5M571.80,659.6v-5M597.60,659.6v-5M623.40,659.6v-5M649.20,659.6v-5" stroke="#7a7a7a" stroke-width="1" fill="none"/>
<text x="409.90" y="579.50" font-family='"Liberation Sans", sans-serif' font-size="14.5" font-weight="normal" text-anchor="end" fill="#000" letter-spacing="0.15">0.5</text>
<text x="409.90" y="596.72" font-family='"Liberation Sans", sans-serif' font-size="14.5" font-weight="normal" text-anchor="end" fill="#000" letter-spacing="0.15">0.4</text>
<text x="409.90" y="613.94" font-family='"Liberation Sans", sans-serif' font-size="14.5" font-weight="normal" text-anchor="end" fill="#000" letter-spacing="0.15">0.3</text>
<text x="409.90" y="631.16" font-family='"Liberation Sans", sans-serif' font-size="14.5" font-weight="normal" text-anchor="end" fill="#000" letter-spacing="0.15">0.2</text>
<text x="409.90" y="648.38" font-family='"Liberation Sans", sans-serif' font-size="14.5" font-weight="normal" text-anchor="end" fill="#000" letter-spacing="0.15">0.1</text>
<text x="409.90" y="665.60" font-family='"Liberation Sans", sans-serif' font-size="14.5" font-weight="normal" text-anchor="end" fill="#000" letter-spacing="0.15">0</text>
<text transform="translate(374.00,616.40) rotate(-90)" x="0" y="5.26" font-family='"Liberation Sans", sans-serif' font-size="14.6" text-anchor="middle" fill="#000">1T Fraction</text>
<text x="444.20" y="680.20" font-family='"Liberation Sans", sans-serif' font-size="14.5" font-weight="normal" text-anchor="middle" fill="#000" letter-spacing="0.15">2</text>
<text x="469.80" y="680.20" font-family='"Liberation Sans", sans-serif' font-size="14.5" font-weight="normal" text-anchor="middle" fill="#000" letter-spacing="0.15">4</text>
<text x="495.70" y="680.20" font-family='"Liberation Sans", sans-serif' font-size="14.5" font-weight="normal" text-anchor="middle" fill="#000" letter-spacing="0.15">6</text>
<text x="521.30" y="680.20" font-family='"Liberation Sans", sans-serif' font-size="14.5" font-weight="normal" text-anchor="middle" fill="#000" letter-spacing="0.15">8</text>
<text x="548.20" y="680.20" font-family='"Liberation Sans", sans-serif' font-size="14.5" font-weight="normal" text-anchor="middle" fill="#000" letter-spacing="0.15">10</text>
<text x="574.00" y="680.20" font-family='"Liberation Sans", sans-serif' font-size="14.5" font-weight="normal" text-anchor="middle" fill="#000" letter-spacing="0.15">12</text>
<text x="599.70" y="680.20" font-family='"Liberation Sans", sans-serif' font-size="14.5" font-weight="normal" text-anchor="middle" fill="#000" letter-spacing="0.15">14</text>
<text x="625.60" y="680.20" font-family='"Liberation Sans", sans-serif' font-size="14.5" font-weight="normal" text-anchor="middle" fill="#000" letter-spacing="0.15">16</text>
<text x="651.40" y="680.20" font-family='"Liberation Sans", sans-serif' font-size="14.5" font-weight="normal" text-anchor="middle" fill="#000" letter-spacing="0.15">18</text>
<text x="677.30" y="680.20" font-family='"Liberation Sans", sans-serif' font-size="14.5" font-weight="normal" text-anchor="middle" fill="#000" letter-spacing="0.15">20</text>
<text x="546.50" y="694.20" font-family='"Liberation Sans", sans-serif' font-size="14.6" font-weight="normal" text-anchor="middle" fill="#000" >Time (ns)</text>
<g clip-path="url(#clipf1)">
<path d="M417.00,559.20 L429.90,559.20 L442.80,559.20 L455.70,559.20 L468.60,559.20 L481.50,559.20 L494.40,559.20 L507.30,559.20 L520.20,559.20 L533.10,559.20 L546.00,542.50 L558.90,501.60 L571.80,495.90 L584.70,489.10 L597.60,549.70 L610.50,547.70 L623.40,503.00 L636.30,492.70 L649.20,488.70 L662.10,489.70" stroke="#984ea3" stroke-width="2.3" fill="none"/>
<circle cx="429.90" cy="559.20" r="3.8" fill="#984ea3"/>
<circle cx="442.80" cy="559.20" r="3.8" fill="#984ea3"/>
<circle cx="455.70" cy="559.20" r="3.8" fill="#984ea3"/>
<circle cx="468.60" cy="559.20" r="3.8" fill="#984ea3"/>
<circle cx="481.50" cy="559.20" r="3.8" fill="#984ea3"/>
<circle cx="494.40" cy="559.20" r="3.8" fill="#984ea3"/>
<circle cx="507.30" cy="559.20" r="3.8" fill="#984ea3"/>
<circle cx="520.20" cy="559.20" r="3.8" fill="#984ea3"/>
<circle cx="533.10" cy="559.20" r="3.8" fill="#984ea3"/>
<circle cx="546.00" cy="542.50" r="3.8" fill="#984ea3"/>
<circle cx="558.90" cy="501.60" r="3.8" fill="#984ea3"/>
<circle cx="571.80" cy="495.90" r="3.8" fill="#984ea3"/>
<circle cx="584.70" cy="489.10" r="3.8" fill="#984ea3"/>
<circle cx="597.60" cy="549.70" r="3.8" fill="#984ea3"/>
<circle cx="610.50" cy="547.70" r="3.8" fill="#984ea3"/>
<circle cx="623.40" cy="503.00" r="3.8" fill="#984ea3"/>
<circle cx="636.30" cy="492.70" r="3.8" fill="#984ea3"/>
<circle cx="649.20" cy="488.70" r="3.8" fill="#984ea3"/>
<circle cx="662.10" cy="489.70" r="3.8" fill="#984ea3"/>
<path d="M417.00,559.20 L429.90,559.20 L442.80,559.20 L455.70,559.20 L468.60,559.20 L481.50,559.20 L494.40,559.20 L507.30,559.20 L520.20,559.20 L533.10,559.20 L546.00,529.60 L558.90,504.50 L571.80,513.10 L584.70,511.60 L597.60,549.00 L610.50,526.70 L623.40,512.40 L636.30,505.90 L649.20,495.10 L662.10,502.60" stroke="#ff7f00" stroke-width="2.3" fill="none"/>
<rect x="425.90" y="555.20" width="8" height="8" fill="#ff7f00"/>
<rect x="438.80" y="555.20" width="8" height="8" fill="#ff7f00"/>
<rect x="451.70" y="555.20" width="8" height="8" fill="#ff7f00"/>
<rect x="464.60" y="555.20" width="8" height="8" fill="#ff7f00"/>
<rect x="477.50" y="555.20" width="8" height="8" fill="#ff7f00"/>
<rect x="490.40" y="555.20" width="8" height="8" fill="#ff7f00"/>
<rect x="503.30" y="555.20" width="8" height="8" fill="#ff7f00"/>
<rect x="516.20" y="555.20" width="8" height="8" fill="#ff7f00"/>
<rect x="529.10" y="555.20" width="8" height="8" fill="#ff7f00"/>
<rect x="542.00" y="525.60" width="8" height="8" fill="#ff7f00"/>
<rect x="554.90" y="500.50" width="8" height="8" fill="#ff7f00"/>
<rect x="567.80" y="509.10" width="8" height="8" fill="#ff7f00"/>
<rect x="580.70" y="507.60" width="8" height="8" fill="#ff7f00"/>
<rect x="593.60" y="545.00" width="8" height="8" fill="#ff7f00"/>
<rect x="606.50" y="522.70" width="8" height="8" fill="#ff7f00"/>
<rect x="619.40" y="508.40" width="8" height="8" fill="#ff7f00"/>
<rect x="632.30" y="501.90" width="8" height="8" fill="#ff7f00"/>
<rect x="645.20" y="491.10" width="8" height="8" fill="#ff7f00"/>
<rect x="658.10" y="498.60" width="8" height="8" fill="#ff7f00"/>
<path d="M417.00,559.20 L429.90,559.20 L442.80,559.20 L455.70,559.20 L468.60,559.20 L481.50,559.20 L494.40,559.20 L507.30,559.20 L520.20,559.20 L533.10,559.20 L546.00,549.70 L558.90,521.30 L571.80,517.40 L584.70,511.60 L597.60,551.10 L610.50,518.10 L623.40,499.40 L636.30,505.90 L649.20,501.20 L662.10,500.90" stroke="#4daf4a" stroke-width="2.3" fill="none"/>
<rect x="425.90" y="555.20" width="8" height="8" fill="#4daf4a"/>
<rect x="438.80" y="555.20" width="8" height="8" fill="#4daf4a"/>
<rect x="451.70" y="555.20" width="8" height="8" fill="#4daf4a"/>
<rect x="464.60" y="555.20" width="8" height="8" fill="#4daf4a"/>
<rect x="477.50" y="555.20" width="8" height="8" fill="#4daf4a"/>
<rect x="490.40" y="555.20" width="8" height="8" fill="#4daf4a"/>
<rect x="503.30" y="555.20" width="8" height="8" fill="#4daf4a"/>
<rect x="516.20" y="555.20" width="8" height="8" fill="#4daf4a"/>
<rect x="529.10" y="555.20" width="8" height="8" fill="#4daf4a"/>
<rect x="542.00" y="545.70" width="8" height="8" fill="#4daf4a"/>
<rect x="554.90" y="517.30" width="8" height="8" fill="#4daf4a"/>
<rect x="567.80" y="513.40" width="8" height="8" fill="#4daf4a"/>
<rect x="580.70" y="507.60" width="8" height="8" fill="#4daf4a"/>
<rect x="593.60" y="547.10" width="8" height="8" fill="#4daf4a"/>
<rect x="606.50" y="514.10" width="8" height="8" fill="#4daf4a"/>
<rect x="619.40" y="495.40" width="8" height="8" fill="#4daf4a"/>
<rect x="632.30" y="501.90" width="8" height="8" fill="#4daf4a"/>
<rect x="645.20" y="497.20" width="8" height="8" fill="#4daf4a"/>
<rect x="658.10" y="496.90" width="8" height="8" fill="#4daf4a"/>
</g>
<path d="M417.00,659.50 L429.90,658.60 L442.80,657.50 L455.70,653.10 L468.60,650.30 L481.50,651.20 L494.40,648.40 L507.30,644.60 L520.20,646.50 L533.10,636.10 L546.00,614.10 L558.90,622.80 L571.80,629.00 L584.70,630.50 L597.60,625.00 L610.50,619.60 L623.40,624.60 L636.30,626.10 L649.20,629.00 L662.10,629.00" stroke="#984ea3" stroke-width="2.3" fill="none"/>
<circle cx="429.90" cy="658.60" r="3.8" fill="#984ea3"/>
<circle cx="442.80" cy="657.50" r="3.8" fill="#984ea3"/>
<circle cx="455.70" cy="653.10" r="3.8" fill="#984ea3"/>
<circle cx="468.60" cy="650.30" r="3.8" fill="#984ea3"/>
<circle cx="481.50" cy="651.20" r="3.8" fill="#984ea3"/>
<circle cx="494.40" cy="648.40" r="3.8" fill="#984ea3"/>
<circle cx="507.30" cy="644.60" r="3.8" fill="#984ea3"/>
<circle cx="520.20" cy="646.50" r="3.8" fill="#984ea3"/>
<circle cx="533.10" cy="636.10" r="3.8" fill="#984ea3"/>
<circle cx="546.00" cy="614.10" r="3.8" fill="#984ea3"/>
<circle cx="558.90" cy="622.80" r="3.8" fill="#984ea3"/>
<circle cx="571.80" cy="629.00" r="3.8" fill="#984ea3"/>
<circle cx="584.70" cy="630.50" r="3.8" fill="#984ea3"/>
<circle cx="597.60" cy="625.00" r="3.8" fill="#984ea3"/>
<circle cx="610.50" cy="619.60" r="3.8" fill="#984ea3"/>
<circle cx="623.40" cy="624.60" r="3.8" fill="#984ea3"/>
<circle cx="636.30" cy="626.10" r="3.8" fill="#984ea3"/>
<circle cx="649.20" cy="629.00" r="3.8" fill="#984ea3"/>
<circle cx="662.10" cy="629.00" r="3.8" fill="#984ea3"/>
<path d="M417.00,659.50 L429.90,659.80 L442.80,658.80 L455.70,657.90 L468.60,652.20 L481.50,650.30 L494.40,648.40 L507.30,652.80 L520.20,650.30 L533.10,637.00 L546.00,626.10 L558.90,625.50 L571.80,619.60 L584.70,610.10 L597.60,621.70 L610.50,623.90 L623.40,616.30 L636.30,611.90 L649.20,618.50 L662.10,618.50" stroke="#ff7f00" stroke-width="2.3" fill="none"/>
<rect x="425.90" y="655.80" width="8" height="8" fill="#ff7f00"/>
<rect x="438.80" y="654.80" width="8" height="8" fill="#ff7f00"/>
<rect x="451.70" y="653.90" width="8" height="8" fill="#ff7f00"/>
<rect x="464.60" y="648.20" width="8" height="8" fill="#ff7f00"/>
<rect x="477.50" y="646.30" width="8" height="8" fill="#ff7f00"/>
<rect x="490.40" y="644.40" width="8" height="8" fill="#ff7f00"/>
<rect x="503.30" y="648.80" width="8" height="8" fill="#ff7f00"/>
<rect x="516.20" y="646.30" width="8" height="8" fill="#ff7f00"/>
<rect x="529.10" y="633.00" width="8" height="8" fill="#ff7f00"/>
<rect x="542.00" y="622.10" width="8" height="8" fill="#ff7f00"/>
<rect x="554.90" y="621.50" width="8" height="8" fill="#ff7f00"/>
<rect x="567.80" y="615.60" width="8" height="8" fill="#ff7f00"/>
<rect x="580.70" y="606.10" width="8" height="8" fill="#ff7f00"/>
<rect x="593.60" y="617.70" width="8" height="8" fill="#ff7f00"/>
<rect x="606.50" y="619.90" width="8" height="8" fill="#ff7f00"/>
<rect x="619.40" y="612.30" width="8" height="8" fill="#ff7f00"/>
<rect x="632.30" y="607.90" width="8" height="8" fill="#ff7f00"/>
<rect x="645.20" y="614.50" width="8" height="8" fill="#ff7f00"/>
<rect x="658.10" y="614.50" width="8" height="8" fill="#ff7f00"/>
<path d="M417.00,659.50 L429.90,658.50 L442.80,656.60 L455.70,656.60 L468.60,654.10 L481.50,656.00 L494.40,651.20 L507.30,649.00 L520.20,651.60 L533.10,640.20 L546.00,620.70 L558.90,618.50 L571.80,615.80 L584.70,613.60 L597.60,627.70 L610.50,618.50 L623.40,621.30 L636.30,614.50 L649.20,617.40 L662.10,618.50" stroke="#4daf4a" stroke-width="2.3" fill="none"/>
<rect x="425.90" y="654.50" width="8" height="8" fill="#4daf4a"/>
<rect x="438.80" y="652.60" width="8" height="8" fill="#4daf4a"/>
<rect x="451.70" y="652.60" width="8" height="8" fill="#4daf4a"/>
<rect x="464.60" y="650.10" width="8" height="8" fill="#4daf4a"/>
<rect x="477.50" y="652.00" width="8" height="8" fill="#4daf4a"/>
<rect x="490.40" y="647.20" width="8" height="8" fill="#4daf4a"/>
<rect x="503.30" y="645.00" width="8" height="8" fill="#4daf4a"/>
<rect x="516.20" y="647.60" width="8" height="8" fill="#4daf4a"/>
<rect x="529.10" y="636.20" width="8" height="8" fill="#4daf4a"/>
<rect x="542.00" y="616.70" width="8" height="8" fill="#4daf4a"/>
<rect x="554.90" y="614.50" width="8" height="8" fill="#4daf4a"/>
<rect x="567.80" y="611.80" width="8" height="8" fill="#4daf4a"/>
<rect x="580.70" y="609.60" width="8" height="8" fill="#4daf4a"/>
<rect x="593.60" y="623.70" width="8" height="8" fill="#4daf4a"/>
<rect x="606.50" y="614.50" width="8" height="8" fill="#4daf4a"/>
<rect x="619.40" y="617.30" width="8" height="8" fill="#4daf4a"/>
<rect x="632.30" y="610.50" width="8" height="8" fill="#4daf4a"/>
<rect x="645.20" y="613.40" width="8" height="8" fill="#4daf4a"/>
<rect x="658.10" y="614.50" width="8" height="8" fill="#4daf4a"/>
<text x="422.00" y="504.30" font-family='"Liberation Serif", serif' font-size="18" font-weight="bold" text-anchor="start" fill="#8a00d4"  stroke="#8a00d4" stroke-width="0.45">NADE</text>
<text x="422.40" y="526.50" font-family='"Liberation Serif", serif' font-size="18" font-weight="bold" text-anchor="start" fill="#ff7700"  stroke="#ff7700" stroke-width="0.45">RMD Small</text>
<text x="422.40" y="548.70" font-family='"Liberation Serif", serif' font-size="18" font-weight="bold" text-anchor="start" fill="#45a845"  stroke="#45a845" stroke-width="0.45">RMD Large</text>
<rect x="431.5" y="229.7" width="222.00" height="213.50" fill="url(#mos2)"/>
<g clip-path="url(#clipd)">
<path d="M380.50,162.95 L392.50,150.95 L408.50,127.95 L447.50,125.95 L448.50,167.95 L432.50,180.95 L416.50,200.95 L396.50,202.95 L382.50,188.95ZM380.50,269.70 L392.50,257.70 L408.50,234.70 L447.50,232.70 L448.50,274.70 L432.50,287.70 L416.50,307.70 L396.50,309.70 L382.50,295.70ZM380.50,376.45 L392.50,364.45 L408.50,341.45 L447.50,339.45 L448.50,381.45 L432.50,394.45 L416.50,414.45 L396.50,416.45 L382.50,402.45ZM491.50,162.95 L503.50,150.95 L519.50,127.95 L558.50,125.95 L559.50,167.95 L543.50,180.95 L527.50,200.95 L507.50,202.95 L493.50,188.95ZM491.50,269.70 L503.50,257.70 L519.50,234.70 L558.50,232.70 L559.50,274.70 L543.50,287.70 L527.50,307.70 L507.50,309.70 L493.50,295.70ZM491.50,376.45 L503.50,364.45 L519.50,341.45 L558.50,339.45 L559.50,381.45 L543.50,394.45 L527.50,414.45 L507.50,416.45 L493.50,402.45ZM602.50,162.95 L614.50,150.95 L630.50,127.95 L669.50,125.95 L670.50,167.95 L654.50,180.95 L638.50,200.95 L618.50,202.95 L604.50,188.95ZM602.50,269.70 L614.50,257.70 L630.50,234.70 L669.50,232.70 L670.50,274.70 L654.50,287.70 L638.50,307.70 L618.50,309.70 L604.50,295.70ZM602.50,376.45 L614.50,364.45 L630.50,341.45 L669.50,339.45 L670.50,381.45 L654.50,394.45 L638.50,414.45 L618.50,416.45 L604.50,402.45Z" fill="url(#mos2b)"/>
<path d="M490.40,294.80 L495.00,298.00 L495.20,304.50 L494.60,311.00 L495.20,317.80 L490.40,321.50 L486.00,318.00 L486.60,311.00 L486.00,304.00 L487.00,298.00ZM486.20,307.50L494.60,307.50M490.40,401.55 L495.00,404.75 L495.20,411.25 L494.60,417.75 L495.20,424.55 L490.40,428.25 L486.00,424.75 L486.60,417.75 L486.00,410.75 L487.00,404.75ZM486.20,414.25L494.60,414.25M601.40,294.80 L606.00,298.00 L606.20,304.50 L605.60,311.00 L606.20,317.80 L601.40,321.50 L597.00,318.00 L597.60,311.00 L597.00,304.00 L598.00,298.00ZM597.20,307.50L605.60,307.50M601.40,401.55 L606.00,404.75 L606.20,411.25 L605.60,417.75 L606.20,424.55 L601.40,428.25 L597.00,424.75 L597.60,417.75 L597.00,410.75 L598.00,404.75ZM597.20,414.25L605.60,414.25" fill="none" stroke="#d8202a" stroke-width="1.3"/>
<g fill="#2f6aa6"><circle cx="487.50" cy="310.50" r="1.3"/><circle cx="494.20" cy="310.70" r="1.3"/><circle cx="487.50" cy="316.20" r="1.3"/><circle cx="493.50" cy="316.20" r="1.3"/><circle cx="489.00" cy="299.50" r="1.3"/><circle cx="492.50" cy="306.50" r="1.3"/><circle cx="487.50" cy="417.25" r="1.3"/><circle cx="494.20" cy="417.45" r="1.3"/><circle cx="487.50" cy="422.95" r="1.3"/><circle cx="493.50" cy="422.95" r="1.3"/><circle cx="489.00" cy="406.25" r="1.3"/><circle cx="492.50" cy="413.25" r="1.3"/><circle cx="598.50" cy="310.50" r="1.3"/><circle cx="605.20" cy="310.70" r="1.3"/><circle cx="598.50" cy="316.20" r="1.3"/><circle cx="604.50" cy="316.20" r="1.3"/><circle cx="600.00" cy="299.50" r="1.3"/><circle cx="603.50" cy="306.50" r="1.3"/><circle cx="598.50" cy="417.25" r="1.3"/><circle cx="605.20" cy="417.45" r="1.3"/><circle cx="598.50" cy="422.95" r="1.3"/><circle cx="604.50" cy="422.95" r="1.3"/><circle cx="600.00" cy="406.25" r="1.3"/><circle cx="603.50" cy="413.25" r="1.3"/></g>
<g fill="#e8141c"><circle cx="437.00" cy="242.60" r="1.85"/><circle cx="433.40" cy="248.00" r="1.85"/><circle cx="431.70" cy="253.20" r="1.85"/><circle cx="438.10" cy="261.00" r="1.85"/><circle cx="444.90" cy="266.10" r="1.85"/><circle cx="526.20" cy="232.80" r="1.85"/><circle cx="530.70" cy="237.00" r="1.85"/><circle cx="523.40" cy="279.00" r="1.85"/><circle cx="530.40" cy="276.20" r="1.85"/><circle cx="534.10" cy="281.60" r="1.85"/><circle cx="494.50" cy="296.20" r="1.85"/><circle cx="488.10" cy="303.70" r="1.85"/><circle cx="494.50" cy="304.00" r="1.85"/><circle cx="490.40" cy="313.20" r="1.85"/><circle cx="486.30" cy="317.90" r="1.85"/><circle cx="494.50" cy="317.90" r="1.85"/><circle cx="490.40" cy="320.50" r="1.85"/><circle cx="459.90" cy="287.20" r="0.9"/><circle cx="440.80" cy="328.20" r="0.9"/><circle cx="437.00" cy="349.35" r="1.85"/><circle cx="433.40" cy="354.75" r="1.85"/><circle cx="431.70" cy="359.95" r="1.85"/><circle cx="438.10" cy="367.75" r="1.85"/><circle cx="444.90" cy="372.85" r="1.85"/><circle cx="526.20" cy="339.55" r="1.85"/><circle cx="530.70" cy="343.75" r="1.85"/><circle cx="523.40" cy="385.75" r="1.85"/><circle cx="530.40" cy="382.95" r="1.85"/><circle cx="534.10" cy="388.35" r="1.85"/><circle cx="494.50" cy="402.95" r="1.85"/><circle cx="488.10" cy="410.45" r="1.85"/><circle cx="494.50" cy="410.75" r="1.85"/><circle cx="490.40" cy="419.95" r="1.85"/><circle cx="486.30" cy="424.65" r="1.85"/><circle cx="494.50" cy="424.65" r="1.85"/><circle cx="490.40" cy="427.25" r="1.85"/><circle cx="459.90" cy="393.95" r="0.9"/><circle cx="440.80" cy="434.95" r="0.9"/><circle cx="548.00" cy="242.60" r="1.85"/><circle cx="544.40" cy="248.00" r="1.85"/><circle cx="542.70" cy="253.20" r="1.85"/><circle cx="549.10" cy="261.00" r="1.85"/><circle cx="555.90" cy="266.10" r="1.85"/><circle cx="637.20" cy="232.80" r="1.85"/><circle cx="641.70" cy="237.00" r="1.85"/><circle cx="634.40" cy="279.00" r="1.85"/><circle cx="641.40" cy="276.20" r="1.85"/><circle cx="645.10" cy="281.60" r="1.85"/><circle cx="605.50" cy="296.20" r="1.85"/><circle cx="599.10" cy="303.70" r="1.85"/><circle cx="605.50" cy="304.00" r="1.85"/><circle cx="601.40" cy="313.20" r="1.85"/><circle cx="597.30" cy="317.90" r="1.85"/><circle cx="605.50" cy="317.90" r="1.85"/><circle cx="601.40" cy="320.50" r="1.85"/><circle cx="570.90" cy="287.20" r="0.9"/><circle cx="551.80" cy="328.20" r="0.9"/><circle cx="548.00" cy="349.35" r="1.85"/><circle cx="544.40" cy="354.75" r="1.85"/><circle cx="542.70" cy="359.95" r="1.85"/><circle cx="549.10" cy="367.75" r="1.85"/><circle cx="555.90" cy="372.85" r="1.85"/><circle cx="637.20" cy="339.55" r="1.85"/><circle cx="641.70" cy="343.75" r="1.85"/><circle cx="634.40" cy="385.75" r="1.85"/><circle cx="641.40" cy="382.95" r="1.85"/><circle cx="645.10" cy="388.35" r="1.85"/><circle cx="605.50" cy="402.95" r="1.85"/><circle cx="599.10" cy="410.45" r="1.85"/><circle cx="605.50" cy="410.75" r="1.85"/><circle cx="601.40" cy="419.95" r="1.85"/><circle cx="597.30" cy="424.65" r="1.85"/><circle cx="605.50" cy="424.65" r="1.85"/><circle cx="601.40" cy="427.25" r="1.85"/><circle cx="570.90" cy="393.95" r="0.9"/><circle cx="551.80" cy="434.95" r="0.9"/></g>
<path d="M524.60,330.80C526.10,329.77 529.70,329.30 531.80,329.90C533.90,330.50 535.12,332.17 537.20,334.40C539.28,336.63 541.92,341.07 544.30,343.30C546.68,345.53 549.40,346.00 551.50,347.80C553.60,349.60 555.10,350.95 556.90,354.10C558.70,357.25 561.70,362.52 562.30,366.70C562.90,370.88 561.70,375.32 560.50,379.20C559.30,383.08 557.20,386.57 555.10,390.00C553.00,393.43 551.18,397.72 547.90,399.80C544.62,401.88 539.88,401.45 535.40,402.50C530.92,403.55 524.90,404.60 521.00,406.10C517.10,407.60 514.23,409.25 512.00,411.50C509.77,413.75 508.48,416.60 507.60,419.60C506.72,422.60 508.05,426.67 506.70,429.50C505.35,432.33 502.20,435.12 499.50,436.60C496.80,438.08 493.80,438.70 490.50,438.40C487.20,438.10 482.83,436.88 479.70,434.80C476.57,432.72 473.33,429.48 471.70,425.90C470.07,422.32 469.45,417.20 469.90,413.30C470.35,409.40 471.87,406.08 474.40,402.50C476.93,398.92 481.82,395.98 485.10,391.80C488.38,387.62 491.85,381.15 494.10,377.40C496.35,373.65 496.95,371.03 498.60,369.30C500.25,367.57 501.77,366.55 504.00,367.00C506.23,367.45 509.77,371.47 512.00,372.00C514.23,372.53 515.90,371.68 517.40,370.20C518.90,368.72 520.25,366.98 521.00,363.10C521.75,359.22 521.60,351.40 521.90,346.90C522.20,342.40 522.35,338.78 522.80,336.10C523.25,333.42 523.10,331.83 524.60,330.80Z" fill="#6f8fe0" fill-opacity="0.38" stroke="#1f4ff0" stroke-width="1.3"/>
</g>
<rect x="431.5" y="229.7" width="222.00" height="213.50" fill="none" stroke="#555" stroke-width="1.1"/>
<path d="M424.1,360 L475.5,349.2" stroke="#000" stroke-width="2.5"/>
<path d="M484,346.8 L472.8,344.4 L476,354.2 Z" fill="#000"/>
<path d="M420.9,419.8 L454,413.6" stroke="#1030f0" stroke-width="2.6"/>
<path d="M463.2,410.8 L452.2,407.8 L455,417.4 Z" fill="#1030f0"/>
<text x="393.8" y="367.6" font-family='"Liberation Serif", serif' font-size="20" font-weight="bold" fill="#000" stroke="#000" stroke-width="0.45">2H</text>
<text x="393.9" y="426.8" font-family='"Liberation Serif", serif' font-size="20" font-weight="bold" fill="#1030f0" stroke="#1030f0" stroke-width="0.45">1T</text>
<text x="365.3" y="245.2" font-family='"Liberation Serif", serif' font-size="18" letter-spacing="1.2" font-weight="bold" fill="#000" stroke="#000" stroke-width="0.45">(d)</text>
<rect x="407.5" y="26.3" width="267.20" height="152.00" fill="none" stroke="#000" stroke-opacity="0.6" stroke-width="1.1"/>
<path d="M407.5,152.95h5M674.7,152.95h-5M407.5,127.60h5M674.7,127.60h-5M407.5,102.25h5M674.7,102.25h-5M407.5,76.90h5M674.7,76.90h-5M407.5,51.55h5M674.7,51.55h-5" stroke="#7a7a7a" stroke-width="1" fill="none"/>
<path d="M452.00,178.3v-6M496.50,178.3v-6M541.00,178.3v-6M585.50,178.3v-6M630.00,178.3v-6" stroke="#7a7a7a" stroke-width="1" fill="none"/>
</svg>
</body></html>
